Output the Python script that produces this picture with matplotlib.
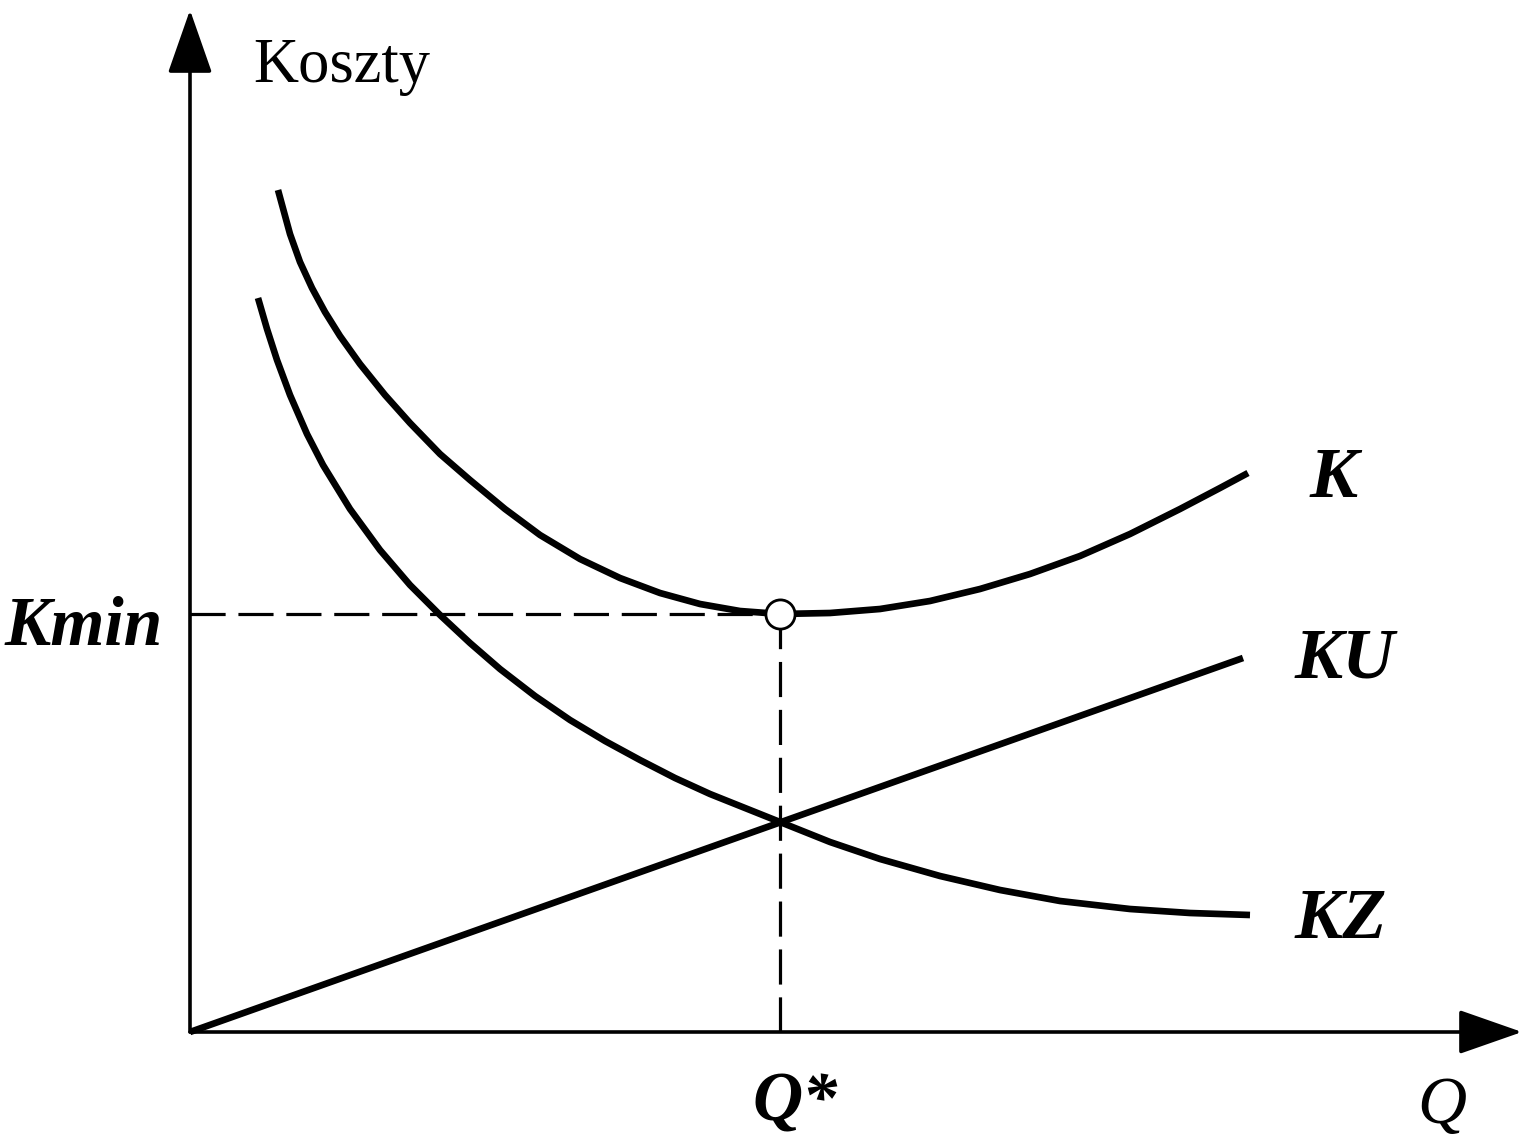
import matplotlib
matplotlib.use("Agg")
from matplotlib import pyplot as plt

# values (Q = quantity, costs in same arbitrary units)
k_q = [88, 100, 110, 122, 135, 150, 170, 195, 220, 250, 280, 315, 350, 390, 430,
       470, 510, 550, 590, 640, 690, 740, 790, 840, 890, 940, 990, 1030, 1058]
k_cost = [842, 798, 770, 744, 720, 696, 668, 637, 609, 578, 552, 523, 497, 473, 454,
          439, 428, 421, 418, 419, 423, 431, 443, 458, 476, 498, 523, 544, 559]

kz_q = [68, 77, 87, 100, 117, 133, 160, 190, 220, 250, 280, 310, 345, 380, 415, 450,
        485, 520, 555, 590, 640, 690, 750, 810, 870, 940, 1000, 1060]
kz_cost = [734, 703, 672, 637, 598, 567, 523, 482, 447, 417, 389, 363, 336, 312, 291,
           272, 254, 238, 224, 210, 190, 173, 156, 142, 131, 123, 119, 117]

ku_q = [0, 1053]
ku_cost = [0, 374]

q_star = 590
k_min = 418

serif = ['Liberation Serif', 'DejaVu Serif']

fig = plt.figure(figsize=(15.25, 11.41), dpi=100)
ax = fig.add_axes([0, 0, 1, 1])
ax.set_xlim(-190, 1335)
ax.set_ylim(-109, 1032)
ax.axis('off')

# axes with arrow heads
arrow = dict(arrowstyle='-|>,head_length=4.0,head_width=1.4', lw=2.6, color='k',
             shrinkA=0, shrinkB=0, mutation_scale=10)
ax.annotate('', xy=(1332, 0), xytext=(0, 0), arrowprops=arrow)
ax.annotate('', xy=(0, 1022), xytext=(0, 0), arrowprops=arrow)

# helper lines to the optimum
ax.plot([0, q_star], [k_min, k_min], color='k', lw=2.3, ls=(0, (11, 4)), zorder=2)
ax.plot([q_star, q_star], [0, k_min], color='k', lw=2.3, ls=(0, (11, 4)), zorder=2)

# cost curves
for q, c in [(k_q, k_cost), (kz_q, kz_cost), (ku_q, ku_cost)]:
    ax.plot(q, c, color='k', lw=4.8, solid_capstyle='butt',
            solid_joinstyle='round', zorder=3)

ax.plot(q_star, k_min, 'o', ms=21, mfc='white', mec='k', mew=2.0, zorder=5)

# labels
ax.text(63, 950, 'Koszty', family=serif, fontsize=45, ha='left', va='baseline')
bi = dict(family=serif, fontsize=52, fontweight='bold', fontstyle='italic',
          va='baseline')
ax.text(1120, 535, 'K', ha='left', **bi)
ax.text(1105, 355, 'KU', ha='left', **bi)
ax.text(1105, 94, 'KZ', ha='left', **bi)
ax.text(-27, 387, 'Kmin', ha='right', **dict(bi, fontsize=50))
ax.text(562, -88, 'Q*', ha='left', **dict(bi, fontsize=50))
ax.text(1227, -91, 'Q', family=serif, fontsize=49, fontstyle='italic',
        ha='left', va='baseline')

fig.savefig('out.png', dpi=100)
